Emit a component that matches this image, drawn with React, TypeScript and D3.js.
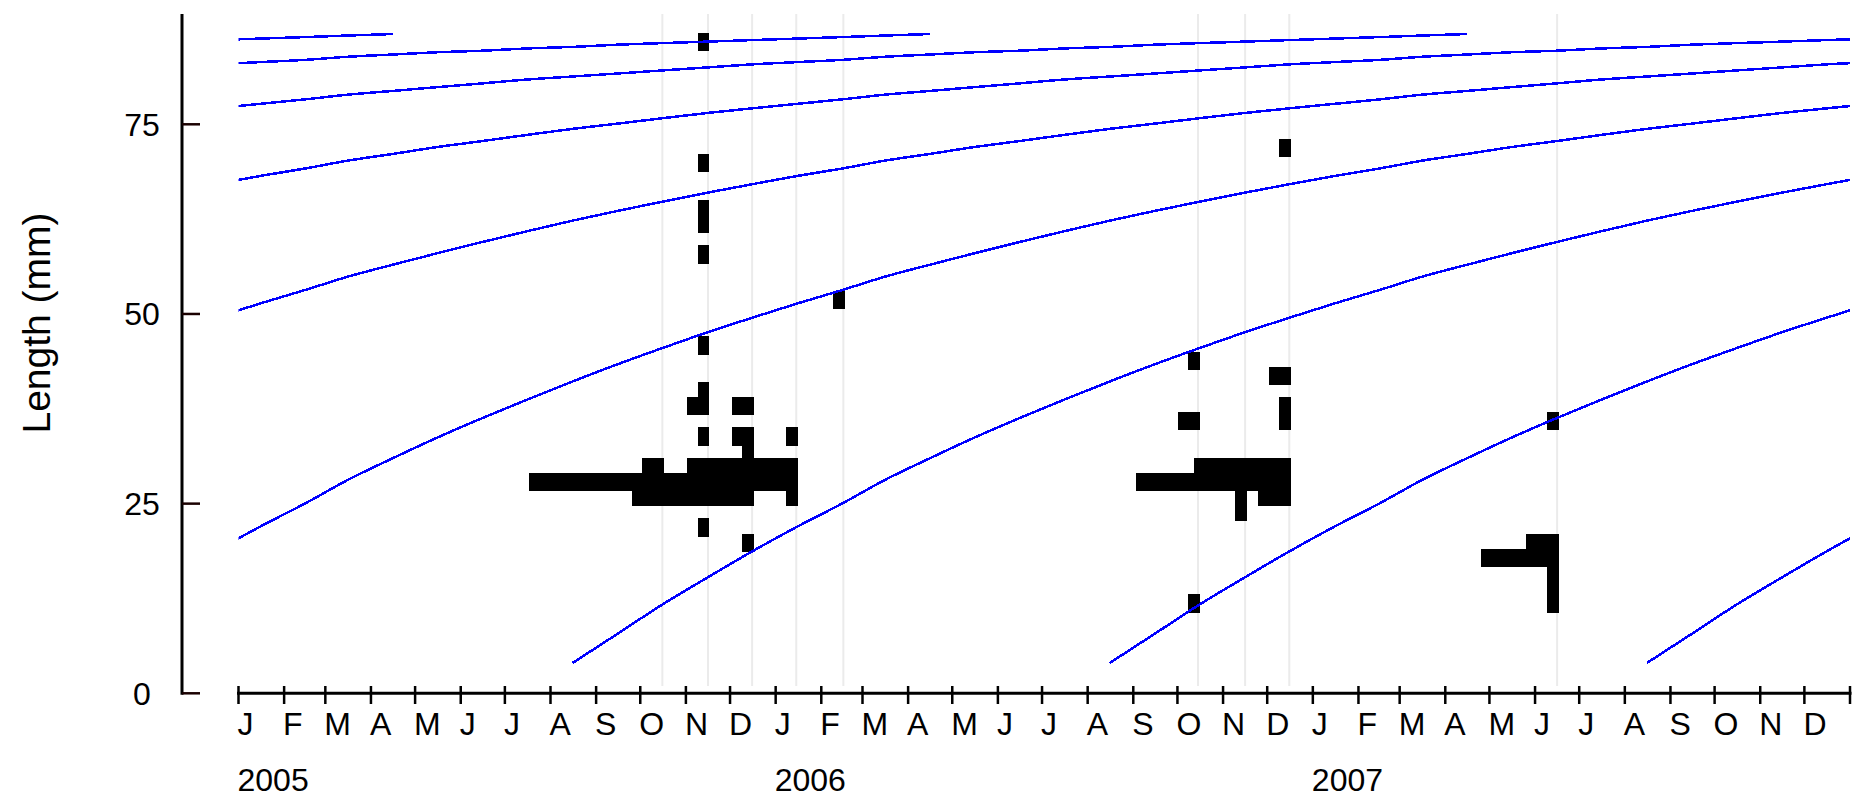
import React from "react";
import * as d3 from "d3";

const W = 1854;
const H = 798;

// axis labels
const years = [2005, 2006, 2007];
const monthLetters = ["J", "F", "M", "A", "M", "J", "J", "A", "S", "O", "N", "D"];
const yTicks = [0, 25, 50, 75];

// length-frequency samples, [class mid (mm), frequency]
const oct2005 = [[26, 3], [28, 13], [30, 2]];
const nov2005 = [[22, 1], [26, 5], [28, 8], [30, 2], [34, 1], [38, 2], [40, 1], [46, 1], [58, 1], [62, 1], [64, 1], [70, 1], [86, 1]];
const dec2005 = [[20, 1], [26, 6], [28, 7], [30, 5], [32, 1], [34, 2], [38, 2]];
const jan2006 = [[26, 1], [28, 6], [30, 6], [34, 1]];
const feb2006 = [[52, 1]];
const oct2006 = [[12, 1], [28, 6], [36, 2], [44, 1]];
const nov2006 = [[24, 1], [26, 1], [28, 5], [30, 5]];
const dec2006 = [[26, 3], [28, 5], [30, 5], [36, 1], [38, 1], [42, 2], [72, 1]];
const jun2007 = [[12, 1], [14, 1], [16, 1], [18, 7.4], [20, 3], [36, 1]];

const sampleDates = ["2005-10-16", "2005-11-16", "2005-12-16", "2006-01-15", "2006-02-16", "2006-10-15", "2006-11-16", "2006-12-16", "2007-06-16"];
const sampleFreqs = [oct2005, nov2005, dec2005, jan2006, feb2006, oct2006, nov2006, dec2006, jun2007];

// growth curve: length (mm) at each month of age from recruitment (mid August)
const growthCurve = [
  4.0, 7.9, 11.7, 15.3, 18.7, 22.0, 25.1, 28.1, 31.0, 33.7, 36.3, 38.7,
  41.1, 43.4, 45.5, 47.6, 49.5, 51.4, 53.2, 54.9, 56.5, 58.0, 59.5, 60.9,
  62.3, 63.6, 64.8, 66.0, 67.1, 68.2, 69.2, 70.2, 71.1, 72.0, 72.8, 73.6,
  74.4, 75.1, 75.8, 76.5, 77.1, 77.7, 78.3, 78.9, 79.4, 79.9, 80.4, 80.9,
  81.3, 81.7, 82.1, 82.5, 82.9, 83.2, 83.5, 83.9, 84.2, 84.5, 84.7, 85.0,
  85.2, 85.5, 85.7, 85.9, 86.1, 86.3, 86.5, 86.7, 86.9,
];
const cohorts = [1999, 2000, 2001, 2002, 2003, 2004, 2005, 2006, 2007];

const parse = d3.timeParse("%Y-%m-%d");
const font = "'Liberation Sans', Arial, sans-serif";

export default function App() {
  const x = d3.scaleTime().domain([new Date(2005, 0, 1), new Date(2008, 0, 1)]).range([238.5, 1850]);
  const y = d3.scaleLinear().domain([0, 75]).range([693.3, 124.3]);
  const w = d3.scaleLinear().domain([0, 13]).range([1.5, 135]);

  const months = d3.timeMonth.range(new Date(2005, 0, 1), new Date(2008, 0, 2));

  const line = d3
    .line<[Date, number]>()
    .x((d) => x(d[0]))
    .y((d) => y(d[1]))
    .curve(d3.curveMonotoneX);

  const curves = cohorts.map((c) => {
    const birth = new Date(c, 7, 16);
    return growthCurve.map((L, m) => [d3.timeMonth.offset(birth, m), L] as [Date, number]);
  });

  return (
    <svg width={W} height={H} style={{ position: "absolute", left: 0, top: 0, display: "block", background: "#fff" }}>
      <defs>
        <clipPath id="plot">
          <rect x={x.range()[0]} y={0} width={x.range()[1] - x.range()[0]} height={y(0)} />
        </clipPath>
      </defs>

      {/* sample dates */}
      {sampleDates.map((s) => (
        <line key={s} x1={x(parse(s)!)} x2={x(parse(s)!)} y1={14} y2={686} stroke="#ebebeb" strokeWidth={2} />
      ))}

      {/* length-frequency bars */}
      {sampleDates.map((s, i) =>
        sampleFreqs[i].map(([mid, n]) => {
          const right = x(parse(s)!) + 1.5;
          const top = y(mid + 1.05);
          return (
            <rect
              key={s + mid}
              x={right - w(n)}
              y={top}
              width={w(n)}
              height={y(mid - 1.35) - top}
              fill="#000"
              shapeRendering="crispEdges"
            />
          );
        })
      )}

      {/* growth curves */}
      <g clipPath="url(#plot)">
        {curves.map((pts, i) => (
          <path key={cohorts[i]} d={line(pts) || ""} fill="none" stroke="#0000ff" strokeWidth={2.5} shapeRendering="crispEdges" />
        ))}
      </g>

      {/* y axis */}
      <line x1={182} x2={182} y1={14} y2={694.8} stroke="#000" strokeWidth={3} />
      {yTicks.map((t) => (
        <g key={t}>
          <line x1={182} x2={200} y1={y(t)} y2={y(t)} stroke="#1a0000" strokeWidth={2.5} />
          <text x={142} y={y(t) + 11.5} textAnchor="middle" fontFamily={font} fontSize={32} fill="#000">
            {t}
          </text>
        </g>
      ))}
      <text transform="translate(49.5,323) rotate(-90)" textAnchor="middle" fontFamily={font} fontSize={39} fill="#000">
        Length (mm)
      </text>

      {/* x axis */}
      <line x1={x.range()[0] - 1.5} x2={x.range()[1] + 1.5} y1={693.3} y2={693.3} stroke="#000" strokeWidth={3} />
      {months.map((m) => (
        <line key={+m} x1={x(m)} x2={x(m)} y1={686} y2={704} stroke="#000" strokeWidth={2.5} />
      ))}
      {months.slice(0, 36).map((m) => (
        <text key={"l" + +m} x={x(m) - 1} y={735} fontFamily={font} fontSize={32} fill="#000">
          {monthLetters[m.getMonth()]}
        </text>
      ))}
      {years.map((yr) => (
        <text key={yr} x={x(new Date(yr, 0, 1)) - 1} y={791} fontFamily={font} fontSize={32} fill="#000">
          {yr}
        </text>
      ))}
    </svg>
  );
}
